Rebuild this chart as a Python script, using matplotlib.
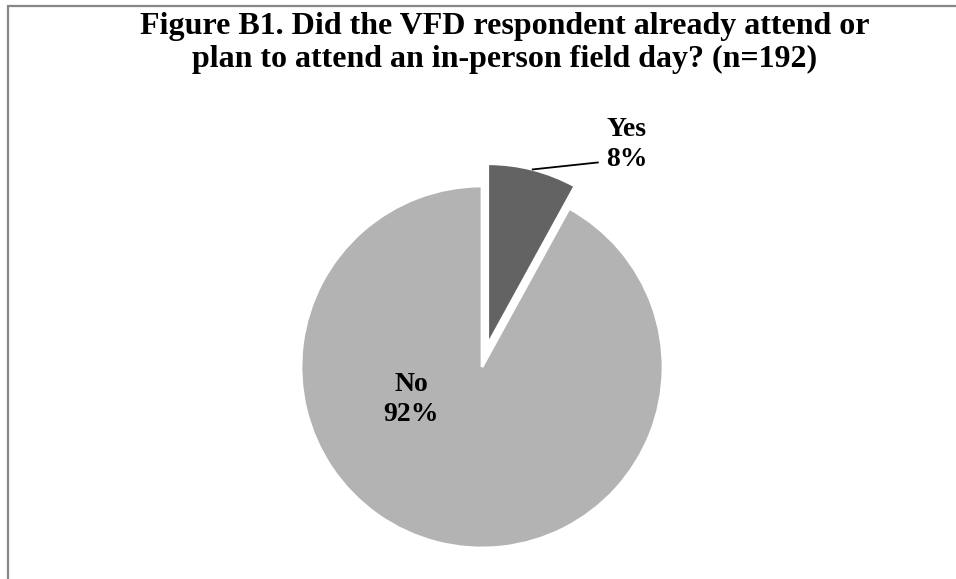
import numpy as np
import matplotlib
matplotlib.use('Agg')
import matplotlib.pyplot as plt
from matplotlib.patches import Rectangle

# ============================================================
# A. DATA
# ============================================================
labels = ['Yes', 'No']
shares = [8, 92]
colors = ['#636363', '#b3b3b3']
explode = [0.127, 0]

# ============================================================
# B. FIGURE
# ============================================================
W, H = 956, 579
fig = plt.figure(figsize=(W / 100, H / 100), dpi=100)
plt.rcParams['font.family'] = ['Liberation Serif', 'DejaVu Serif']

# frame (chart area border, cropped at right/bottom)
fig.patches.append(Rectangle(
    (8 / W, -0.1), 1.2, (H - 6.5) / H + 0.1,
    transform=fig.transFigure, fill=False,
    edgecolor='#878787', linewidth=1.6
))

# pie axes: centre (482, 367) px, radius 181 px, limits +-1.5
cx, cy, r = 482, 367, 181
side = 3 * r
ax = fig.add_axes([(cx - side / 2) / W, (H - cy - side / 2) / H,
                   side / W, side / H])

wedges, _ = ax.pie(
    shares,
    colors=colors,
    explode=explode,
    startangle=90,
    counterclock=False,
    radius=1,
    wedgeprops={'edgecolor': 'white', 'linewidth': 2.0}
)
ax.set_xlim(-1.5, 1.5)
ax.set_ylim(-1.5, 1.5)
ax.set_aspect('equal')
ax.axis('off')

# ============================================================
# C. LABELS
# ============================================================
font_lab = dict(fontsize=20, fontweight='bold', ha='center', va='center',
                linespacing=1.3, color='black')

ax.text(-0.392, -0.18, f"{labels[1]}\n{shares[1]}%", **font_lab)

# Yes label with leader line from bisector of exploded wedge
ang = np.deg2rad(90 - shares[0] / 100 * 360 / 2)
ex = explode[0]
px = (1 + ex) * np.cos(ang)
py = (1 + ex) * np.sin(ang)
ax.text(0.80, 1.23, f"{labels[0]}\n{shares[0]}%", **font_lab)
ax.plot([px, 0.64], [py, 1.13], color='black', linewidth=1.3,
        clip_on=False)

# ============================================================
# D. TITLE
# ============================================================
fig.text(505 / W, 1 - 12 / H,
         'Figure B1. Did the VFD respondent already attend or\n'
         'plan to attend an in-person field day? (n=192)',
         ha='center', va='top', fontsize=23, fontweight='bold',
         linespacing=1.17)

plt.savefig('out.png', dpi=100)
